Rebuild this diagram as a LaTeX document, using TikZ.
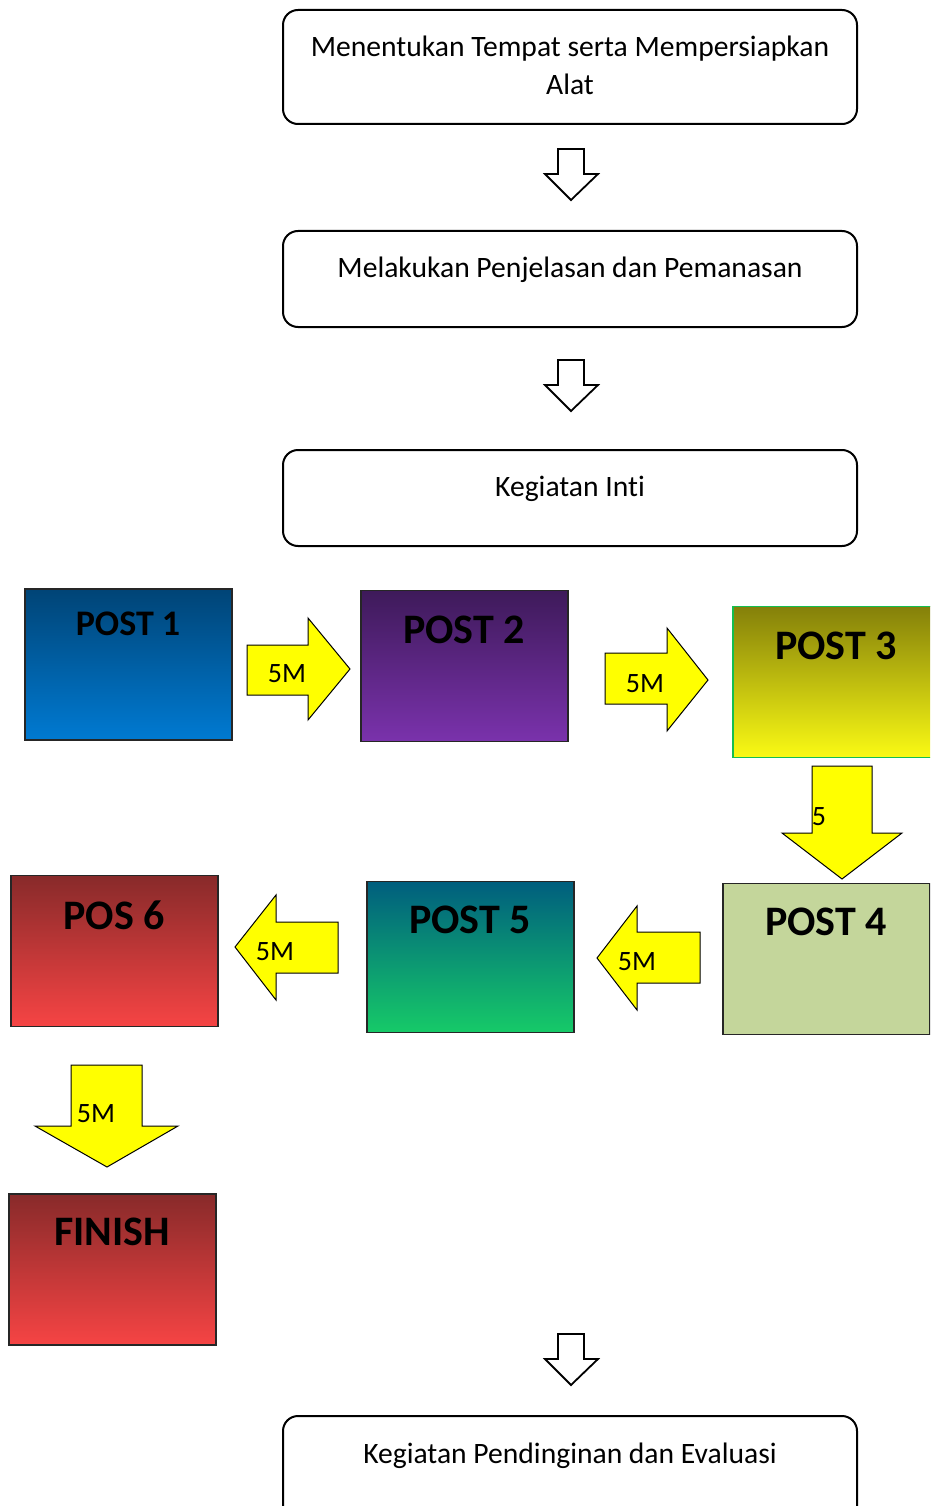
\documentclass[tikz,border=0pt]{standalone}
\usepackage{fontspec}
\setmainfont{Carlito}[Ligatures=NoCommon]
\definecolor{b1t}{RGB}{0,68,118}
\definecolor{b1b}{RGB}{0,122,210}
\definecolor{p2t}{RGB}{62,26,90}
\definecolor{p2b}{RGB}{122,50,172}
\definecolor{y3t}{RGB}{132,128,10}
\definecolor{y3b}{RGB}{250,250,20}
\definecolor{g3}{RGB}{20,190,80}
\definecolor{g4}{RGB}{196,214,155}
\definecolor{t5t}{RGB}{0,94,126}
\definecolor{t5b}{RGB}{22,202,104}
\definecolor{r6t}{RGB}{136,42,42}
\definecolor{r6b}{RGB}{246,68,68}
\definecolor{arrowyellow}{RGB}{255,255,0}
\tikzset{
  flowbox/.style={draw, line width=2pt, rounded corners=15pt, minimum width=574pt, inner sep=0pt},
  postbox/.style={draw=black!85, line width=1.6pt, minimum width=207pt, minimum height=151pt, inner sep=0pt},
  blockarrow/.style={draw, fill=arrowyellow, line width=1pt, line join=miter},
  hollowarrow/.style={draw, fill=white, line width=1.8pt, line join=miter},
  boxtext/.style={font=\fontsize{29.6}{38}\selectfont, align=center, inner sep=0pt},
  posttext/.style={font=\bfseries\fontsize{42}{42}\selectfont, inner sep=0pt},
  arrowtext/.style={font=\fontsize{28}{28}\selectfont, inner sep=0pt},
}
\begin{document}
\begin{tikzpicture}[x=1pt,y=-1pt]
\useasboundingbox (0,0) rectangle (930,1506);
\clip (0,0) rectangle (930,1506);
% flow boxes
\node[flowbox, minimum height=114pt] (box1) at (570,67) {};
\node[boxtext] (t1) at (570,65) {Menentukan Tempat serta Mempersiapkan\\Alat};
\node[flowbox, minimum height=96pt] (box2) at (570,279) {};
\node[boxtext] (t2) at (570,270) {Melakukan Penjelasan dan Pemanasan};
\node[flowbox, minimum height=96pt] (box3) at (570,498) {};
\node[boxtext] (t3) at (570,489) {Kegiatan Inti};
\node[flowbox, minimum height=114pt] (box4) at (570,1473) {};
\node[boxtext] (t4) at (570,1456) {Kegiatan Pendinginan dan Evaluasi};
% hollow arrows
\foreach \dy in {0,211,1185}{
  \draw[hollowarrow] (558,149+\dy) -- (584,149+\dy) -- (584,174+\dy) -- (598,174+\dy) -- (571,200+\dy) -- (545,174+\dy) -- (558,174+\dy) -- cycle;
}
% posts
\node[postbox, top color=b1t, bottom color=b1b] (p1) at (128.5,664.5) {};
\node[posttext, font=\bfseries\fontsize{36}{36}\selectfont] (l1) at (128,624) {POST 1};
\node[postbox, top color=p2t, bottom color=p2b] (p2) at (464.5,666) {};
\node[posttext] (l2) at (464,630) {POST 2};
\node[postbox, draw=g3, top color=y3t, bottom color=y3b, minimum width=200pt] (p3) at (833,682) {};
\node[posttext] (l3) at (836,646) {POST 3};
\node[postbox, fill=g4] (p4) at (826.5,959) {};
\node[posttext] (l4) at (826,922) {POST 4};
\node[postbox, top color=t5t, bottom color=t5b] (p5) at (470.5,957) {};
\node[posttext] (l5) at (470,920) {POST 5};
\node[postbox, top color=r6t, bottom color=r6b] (p6) at (114.5,951) {};
\node[posttext] (l6) at (114,915) {POS 6};
\node[postbox, top color=r6t, bottom color=r6b] (fin) at (112.5,1269.5) {};
\node[posttext] (lf) at (112,1232) {FINISH};
% yellow block arrows
\draw[blockarrow] (247,645) -- (308,645) -- (308,618) -- (350,669) -- (308,720) -- (308,695) -- (247,695) -- cycle;
\node[arrowtext] (a1) at (287,674) {5M};
\draw[blockarrow] (605,653) -- (667,653) -- (667,628) -- (708,680) -- (667,731) -- (667,704) -- (605,704) -- cycle;
\node[arrowtext] (a2) at (645,684) {5M};
\draw[blockarrow] (812,766) -- (872,766) -- (872,833) -- (902,833) -- (842,879) -- (782,833) -- (812,833) -- cycle;
\node[arrowtext] (a3) at (819,817) {5};
\draw[blockarrow] (700,932) -- (637,932) -- (637,906) -- (597,958) -- (637,1010) -- (637,983) -- (700,983) -- cycle;
\node[arrowtext] (a4) at (637,962) {5M};
\draw[blockarrow] (338,922) -- (276,922) -- (276,895) -- (235,947) -- (276,1000) -- (276,973) -- (338,973) -- cycle;
\node[arrowtext] (a5) at (275,952) {5M};
\draw[blockarrow] (71,1065) -- (142,1065) -- (142,1126) -- (178,1126) -- (107,1167) -- (35,1126) -- (71,1126) -- cycle;
\node[arrowtext] (a6) at (96,1114) {5M};
\end{tikzpicture}
\end{document}
